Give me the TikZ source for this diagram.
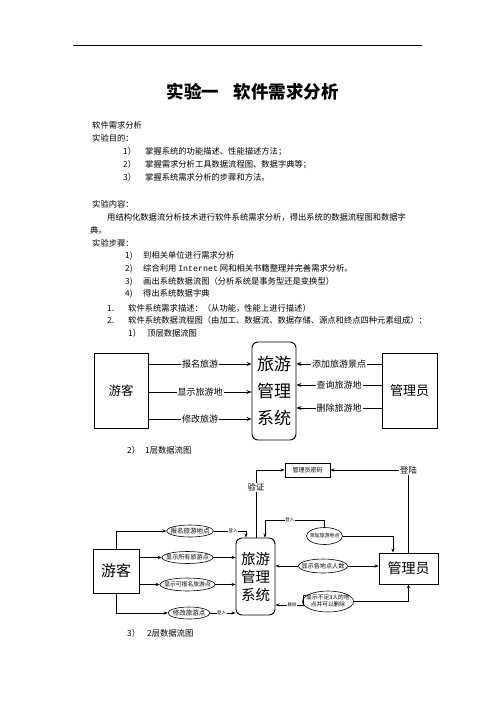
\documentclass[tikz,border=0pt]{standalone}
\usepackage{fontspec}
\setmainfont{Noto Sans CJK SC}
\newfontfamily\monof{Liberation Mono}
\usetikzlibrary{arrows.meta,shapes.geometric}
\newcommand\mkzw[1]{\makebox[0pt]{#1}}
\tikzset{
  body/.style={anchor=base west,yshift=-3.1pt,inner sep=0pt,font=\fontsize{8.3}{10}\selectfont},
  bigbox/.style={draw,line width=0.9pt,inner sep=0pt},
  sysbox/.style={draw,line width=0.9pt,rounded corners=6pt,inner sep=0pt,align=center},
  arr/.style={line width=0.8pt,-{Stealth[length=5pt,width=4pt]}},
  arr1/.style={line width=0.8pt,-{Stealth[length=4pt,width=3.2pt]}},
  lab/.style={fill=white,inner sep=1pt,font=\fontsize{9}{10}\selectfont},
  ell/.style={draw,ellipse,line width=0.6pt,inner sep=0pt},
  tinylab/.style={fill=white,inner sep=0.6pt,font=\fontsize{4.5}{5}\selectfont},
  midlab/.style={fill=white,inner sep=1pt,font=\fontsize{8.3}{9}\selectfont},
}
\begin{document}
\begin{tikzpicture}[x=1pt,y=-1pt]
\fill[white] (0,0) rectangle (496,702);
\useasboundingbox (0,0) rectangle (496,702);

% header rule and title
\draw[line width=0.8pt] (73,45) -- (422,45);
\node[font=\fontsize{17.5}{20}\selectfont\bfseries] (t1) at (193,92) {实验一};
\node[font=\fontsize{17.5}{20}\selectfont\bfseries] (t2) at (286,92) {软件需求分析};

% body text
\node[body] (b1) at (92,125) {软件需求分析};
\node[body] (b2) at (92,138) {实验目的：};
\node[body] (n1) at (123,151) {1）};
\node[body] (b3) at (145,151) {掌握系统的功能描述、性能描述方法；};
\node[body] (n2) at (123,164) {2）};
\node[body] (b4) at (145,164) {掌握需求分析工具数据流程图、数据字典等；};
\node[body] (n3) at (123,177) {3）};
\node[body] (b5) at (145,177) {掌握系统需求分析的步骤和方法。};
\node[body] (b6) at (92,204) {实验内容：};
\node[body] (b7) at (107,217) {用结构化数据流分析技术进行软件系统需求分析，得出系统的数据流程图和数据字};
\node[body] (b8) at (90,230) {典。};
\node[body] (b9) at (92,243) {实验步骤：};
\node[body] (s1) at (125,255) {1)};
\node[body] (b10) at (143,255) {到相关单位进行需求分析};
\node[body] (s2) at (125,268) {2)};
\node[body] (b11) at (143,268) {综合利用 {\monof Internet} 网和相关书籍整理并完善需求分析。};
\node[body] (s3) at (125,281) {3)};
\node[body] (b12) at (143,281) {画出系统数据流图（分析系统是事务型还是变换型）};
\node[body] (s4) at (125,293) {4)};
\node[body] (b13) at (143,293) {得出系统数据字典};
\node[body] (m1) at (107,308) {1.};
\node[body] (b14) at (128,308) {软件系统需求描述：（从功能，性能上进行描述）};
\node[body] (m2) at (107,320) {2.};
\node[body] (b15) at (128,320) {软件系统数据流程图（由加工、数据流、数据存储、源点和终点四种元素组成）：};
\node[body] (k1) at (128,333) {1）};
\node[body] (b16) at (147,333) {顶层数据流图};
\node[body] (k2) at (127,450) {2）};
\node[body] (b17) at (145,450) {1层数据流图};
\node[body] (k3) at (127,633) {3）};
\node[body] (b18) at (147,633) {2层数据流图};

% ---------- top level DFD ----------
\node[bigbox,minimum width=54pt,minimum height=75pt,font=\fontsize{12.5}{14}\selectfont] (ya) at (121,390.5) {游客};
\node[sysbox,minimum width=44pt,minimum height=98pt,font=\fontsize{17}{27}\selectfont] (sys0) at (274,391) {旅游\\管理\\系统};
\node[bigbox,minimum width=55pt,minimum height=75pt,font=\fontsize{13}{14}\selectfont] (ma) at (409.5,390.5) {管理员};

\draw[arr] (ya.east |- 0,364) -- node[lab]{报名旅游} (sys0.west |- 0,364);
\draw[arr] (ya.east |- 0,392) -- node[lab]{显示旅游地} (sys0.west |- 0,392);
\draw[arr] (ya.east |- 0,419) -- node[lab]{修改旅游} (sys0.west |- 0,419);
\draw[arr] (ma.west |- 0,364) -- node[lab]{添加旅游景点} (sys0.east |- 0,364);
\draw[arr] (ma.west |- 0,385) -- node[lab]{查询旅游地} (sys0.east |- 0,385);
\draw[arr] (ma.west |- 0,408) -- node[lab]{删除旅游地} (sys0.east |- 0,408);

% ---------- level 1 DFD ----------
\node[bigbox,minimum width=46pt,minimum height=44pt,font=\fontsize{15}{16}\selectfont] (yk1) at (116,571) {游客};
\node[sysbox,minimum width=39pt,minimum height=77pt,font=\fontsize{14.5}{18}\selectfont] (sys1) at (255.5,576.5) {旅游\\管理\\系统};
\node[bigbox,minimum width=59pt,minimum height=31pt,font=\fontsize{14}{15}\selectfont] (ma1) at (408.5,568.5) {管理员};
\node[draw,line width=0.8pt,inner sep=0pt,minimum width=45pt,minimum height=14pt,font=\fontsize{6}{7}\selectfont] (pw) at (307.5,470) {管理员密码};

\node[ell,minimum width=47pt,minimum height=12pt,font=\fontsize{6.5}{7}\selectfont] (e1) at (190,531) {\mkzw{报名旅游地点}};
\node[ell,minimum width=51pt,minimum height=12pt,font=\fontsize{6.1}{7}\selectfont] (e2) at (187.5,557.5) {\mkzw{显示所有旅游点}};
\node[ell,minimum width=55pt,minimum height=13pt,font=\fontsize{5.8}{7}\selectfont] (e3) at (187.5,584.5) {\mkzw{显示可报名旅游点}};
\node[ell,minimum width=42pt,minimum height=12pt,font=\fontsize{6.5}{7}\selectfont] (e4) at (189,613) {\mkzw{修改旅游点}};
\node[ell,minimum width=36pt,minimum height=17pt,font=\fontsize{5}{6}\selectfont] (e5) at (324.5,536) {\mkzw{添加旅游地点}};
\node[ell,minimum width=49pt,minimum height=14pt,font=\fontsize{6.1}{7}\selectfont] (e6) at (323,566) {\mkzw{显示各地点人数}};
\node[ell,minimum width=51pt,minimum height=21pt,font=\fontsize{5.7}{7}\selectfont] (e7) at (328,601.5) {\mkzw{\begin{tabular}{@{}c@{}}显示不足3人的地\\点并可以删除\end{tabular}}};

% left side
\draw[arr1] (yk1.north) |- (e1.west);
\draw[arr1] (e1.east) -| node[tinylab,pos=0.3]{登入} (sys1.north -| 246,0);
\draw[arr1] (yk1.east |- e2.west) -- (e2.west);
\draw[arr1] (e2.east) -- (sys1.west |- e2.east);
\draw[arr1] (yk1.east |- e3.west) -- (e3.west);
\draw[arr1] (e3.east) -- (sys1.west |- e3.east);
\draw[arr1] (yk1.south) |- (e4.west);
\draw[arr1] (e4.east) -- node[tinylab,pos=0.45]{登入} (sys1.west |- e4.east);

% password store
\draw[arr1] (sys1.north -| 256,0) |- node[midlab,pos=0.37]{验证} (pw.west);
\draw[arr1] (ma1.north) |- node[midlab,pos=0.5]{登陆} (pw.east);

% right side
\draw[arr1] (e5.north) -- ++(0,-7) -| node[tinylab,pos=0.29]{登入} (sys1.north -| 265,0);
\draw[arr1] (e5.east) -| (ma1.north -| 393,0);
\draw[arr1] (e6.west) -- (sys1.east |- e6.west);
\draw[arr1] (e6.east) -- (ma1.west |- e6.east);
\draw[arr1] (e7.east) -| (ma1.south);
\draw[arr1] (e7.165) -- ++(-3,0) |- node[tinylab,pos=0.7]{删除} (sys1.east |- 0,605);
\end{tikzpicture}
\end{document}
